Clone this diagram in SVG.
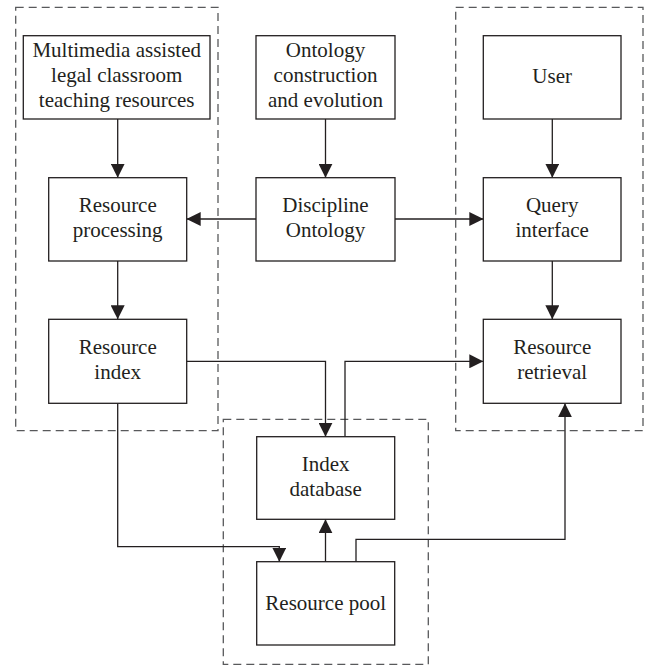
<svg xmlns="http://www.w3.org/2000/svg" width="645" height="667" viewBox="0 0 645 667">
  <style>
    .box { fill: #ffffff; stroke: #231f20; stroke-width: 1.3; }
    .group { fill: none; stroke: #58595b; stroke-width: 1.3; stroke-dasharray: 8 5; }
    .label { font-family: "Liberation Serif", "Times New Roman", serif; font-size: 21px; fill: #231f20; text-anchor: middle; }
    .wire { fill: none; stroke: #231f20; stroke-width: 1.3; }
  </style>
  <defs>
    <marker id="arrow" viewBox="0 0 14 14" refX="14" refY="7" markerWidth="14" markerHeight="14" markerUnits="userSpaceOnUse" orient="auto">
      <path d="M0,0 L14,7 L0,14 Z" fill="#231f20"/>
    </marker>
  </defs>
  <rect width="645" height="667" fill="#ffffff"/>

  <!-- dashed grouping frames -->
  <g id="groups">
    <rect class="group" x="15.7" y="7.3" width="202.3" height="423.4"/>
    <rect class="group" x="455.7" y="7.3" width="187.3" height="423.4"/>
    <rect class="group" x="223.3" y="419.3" width="205" height="245"/>
  </g>

  <!-- connectors -->
  <g id="connectors">
    <line class="wire" x1="117.7" y1="119" x2="117.7" y2="177.7" marker-end="url(#arrow)"/>
    <line class="wire" x1="325.5" y1="119" x2="325.5" y2="177.7" marker-end="url(#arrow)"/>
    <line class="wire" x1="552.3" y1="119" x2="552.3" y2="177.7" marker-end="url(#arrow)"/>
    <line class="wire" x1="256" y1="219" x2="186.7" y2="219" marker-end="url(#arrow)"/>
    <line class="wire" x1="395" y1="219" x2="483.3" y2="219" marker-end="url(#arrow)"/>
    <line class="wire" x1="117.7" y1="261" x2="117.7" y2="319.3" marker-end="url(#arrow)"/>
    <line class="wire" x1="552.3" y1="261" x2="552.3" y2="319.3" marker-end="url(#arrow)"/>
    <polyline class="wire" points="186.7,361.3 325.5,361.3 325.5,436.7" marker-end="url(#arrow)"/>
    <polyline class="wire" points="345,436.7 345,361.3 483.3,361.3" marker-end="url(#arrow)"/>
    <polyline class="wire" points="117.7,403.3 117.7,546.7 279.3,546.7 279.3,561.7" marker-end="url(#arrow)"/>
    <line class="wire" x1="325.5" y1="561.7" x2="325.5" y2="519.3" marker-end="url(#arrow)"/>
    <polyline class="wire" points="356,561.7 356,539.3 565,539.3 565,403.3" marker-end="url(#arrow)"/>
  </g>

  <g id="multimedia-resources">
    <rect class="box" x="23.3" y="35.7" width="186.7" height="83.3"/>
    <text class="label" x="116.7" y="57">Multimedia assisted</text>
    <text class="label" x="116.7" y="82">legal classroom</text>
    <text class="label" x="116.7" y="107">teaching resources</text>
  </g>
  <g id="ontology-construction">
    <rect class="box" x="256" y="35.7" width="139" height="83.3"/>
    <text class="label" x="325.5" y="57">Ontology</text>
    <text class="label" x="325.5" y="82">construction</text>
    <text class="label" x="325.5" y="107">and evolution</text>
  </g>
  <g id="user">
    <rect class="box" x="483.3" y="35.7" width="137.7" height="83.3"/>
    <text class="label" x="552.2" y="83">User</text>
  </g>
  <g id="resource-processing">
    <rect class="box" x="48.7" y="177.7" width="138" height="83.3"/>
    <text class="label" x="117.7" y="212">Resource</text>
    <text class="label" x="117.7" y="237">processing</text>
  </g>
  <g id="discipline-ontology">
    <rect class="box" x="256" y="177.7" width="139" height="83.3"/>
    <text class="label" x="325.5" y="212">Discipline</text>
    <text class="label" x="325.5" y="237">Ontology</text>
  </g>
  <g id="query-interface">
    <rect class="box" x="483.3" y="177.7" width="137.7" height="83.3"/>
    <text class="label" x="552.2" y="212">Query</text>
    <text class="label" x="552.2" y="237">interface</text>
  </g>
  <g id="resource-index">
    <rect class="box" x="48.7" y="319.3" width="138" height="84"/>
    <text class="label" x="117.7" y="354">Resource</text>
    <text class="label" x="117.7" y="379">index</text>
  </g>
  <g id="resource-retrieval">
    <rect class="box" x="483.3" y="319.3" width="137.7" height="84"/>
    <text class="label" x="552.2" y="354">Resource</text>
    <text class="label" x="552.2" y="379">retrieval</text>
  </g>
  <g id="index-database">
    <rect class="box" x="256.7" y="436.7" width="138" height="82.6"/>
    <text class="label" x="325.7" y="471">Index</text>
    <text class="label" x="325.7" y="496">database</text>
  </g>
  <g id="resource-pool">
    <rect class="box" x="256.7" y="561.7" width="138" height="83.3"/>
    <text class="label" x="325.7" y="609.5">Resource pool</text>
  </g>
</svg>
